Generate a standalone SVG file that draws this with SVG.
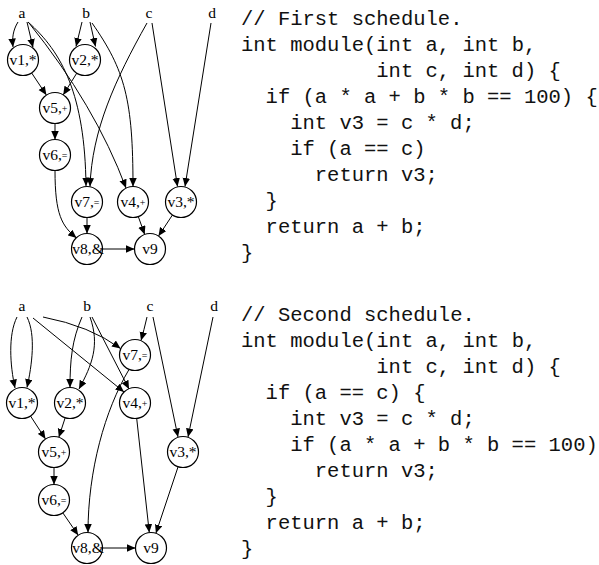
<svg xmlns="http://www.w3.org/2000/svg" width="599" height="565" viewBox="0 0 599 565">
  <style>
    .lbl { font-family: "Liberation Serif", "Times New Roman", serif; font-size: 15.5px; fill: #000; text-anchor: middle; }
    .op { font-size: 10px; }
    .node circle { fill: #fff; stroke: #000; stroke-width: 1.2; }
    .edges path { fill: none; stroke: #000; stroke-width: 1; marker-end: url(#arrow); }
    .code { font-family: "Liberation Mono", "Courier New", monospace; font-size: 20.5px; fill: #111; }
  </style>
  <defs>
    <marker id="arrow" markerUnits="userSpaceOnUse" markerWidth="9" markerHeight="8" refX="8.5" refY="3.75" orient="auto">
      <path d="M0,0 L8.5,3.75 L0,7.5 z" fill="#000"/>
    </marker>
  </defs>

  <!-- ===== First schedule: dataflow graph ===== -->
  <g id="inputs-1">
    <text class="lbl" x="22" y="18">a</text>
    <text class="lbl" x="86" y="18">b</text>
    <text class="lbl" x="149" y="18">c</text>
    <text class="lbl" x="212" y="18">d</text>
  </g>

  <g class="edges" id="edges-1">
    <path d="M18,22 C13,30 12,38 13,47"/>
    <path d="M27,22 L33,47.5"/>
    <path d="M82,22 L76,46.5"/>
    <path d="M90,22 L95.5,46.5"/>
    <path d="M28,22 C62,52 85,95 86,186"/>
    <path d="M29,23 Q95,105 126,188"/>
    <path d="M92,23 C125,70 133,100 133,186.5"/>
    <path d="M147,23 C115,80 92,130 90,186.5"/>
    <path d="M152,23 L177.5,186.5"/>
    <path d="M211,23 L185,186.5"/>
    <path d="M31.6,72.9 L46.4,95.1"/>
    <path d="M76.8,73.1 L63.2,94.9"/>
    <path d="M55,123.5 L55,139.5"/>
    <path d="M55,170.5 C55,215 62,226 76.5,238"/>
    <path d="M87,217.5 L87,233.5"/>
    <path d="M138.3,216.6 L144.7,234.4"/>
    <path d="M172.5,214.9 L158.5,236.1"/>
    <path d="M102.5,249 L134.5,249"/>
  </g>

  <g id="v1-1" class="node"><circle cx="23" cy="60" r="15.5"/><text class="lbl" x="23" y="65">v1,*</text></g>
  <g id="v2-1" class="node"><circle cx="85" cy="60" r="15.5"/><text class="lbl" x="85" y="65">v2,*</text></g>
  <g id="v5-1" class="node"><circle cx="55" cy="108" r="15.5"/><text class="lbl" x="55" y="113">v5,<tspan class="op" dy="-1">+</tspan></text></g>
  <g id="v6-1" class="node"><circle cx="55" cy="155" r="15.5"/><text class="lbl" x="55" y="160">v6,<tspan class="op" dy="-1">=</tspan></text></g>
  <g id="v7-1" class="node"><circle cx="87" cy="202" r="15.5"/><text class="lbl" x="87" y="207">v7,<tspan class="op" dy="-1">=</tspan></text></g>
  <g id="v4-1" class="node"><circle cx="133" cy="202" r="15.5"/><text class="lbl" x="133" y="207">v4,<tspan class="op" dy="-1">+</tspan></text></g>
  <g id="v3-1" class="node"><circle cx="181" cy="202" r="15.5"/><text class="lbl" x="181" y="207">v3,*</text></g>
  <g id="v8-1" class="node"><circle cx="87" cy="249" r="15.5"/><text class="lbl" x="88" y="254">v8,&amp;</text></g>
  <g id="v9-1" class="node"><circle cx="150" cy="249" r="15.5"/><text class="lbl" x="150" y="254">v9</text></g>

  <!-- ===== First schedule: code ===== -->
  <g id="code-1" class="code">
    <text x="241" y="25">// First schedule.</text>
    <text x="241" y="51">int module(int a, int b,</text>
    <text x="376.3" y="77">int c, int d) {</text>
    <text x="265.6" y="103">if (a * a + b * b == 100) {</text>
    <text x="290.2" y="129">int v3 = c * d;</text>
    <text x="290.2" y="155">if (a == c)</text>
    <text x="314.8" y="181">return v3;</text>
    <text x="265.6" y="207">}</text>
    <text x="265.6" y="233">return a + b;</text>
    <text x="241" y="259">}</text>
  </g>

  <!-- ===== Second schedule: dataflow graph ===== -->
  <g id="inputs-2">
    <text class="lbl" x="22" y="311">a</text>
    <text class="lbl" x="87" y="311">b</text>
    <text class="lbl" x="150" y="311">c</text>
    <text class="lbl" x="214" y="311">d</text>
  </g>

  <g class="edges" id="edges-2">
    <path d="M17,317 C8,335 10,365 15,388"/>
    <path d="M27,317 C36,335 32,365 27,387.5"/>
    <path d="M43,317 Q90,326 120.5,348.5"/>
    <path d="M33,318 L124,392"/>
    <path d="M82,317 C72,340 70,360 70,387.5"/>
    <path d="M90,317 C100,345 92,365 79,389"/>
    <path d="M92,317 L129,389"/>
    <path d="M147,317 Q144,330 141,340.5"/>
    <path d="M153,317 L178,437"/>
    <path d="M213,317 L188,437"/>
    <path d="M129,369.5 C105,410 88,470 88,532.5"/>
    <path d="M30.5,416 L45.5,439"/>
    <path d="M65.2,417.7 L58.8,437.3"/>
    <path d="M54,467.5 L54,484.5"/>
    <path d="M62.8,512.8 L78.2,535.2"/>
    <path d="M136.7,418.4 L149.3,532.6"/>
    <path d="M178.1,466.7 L155.9,533.3"/>
    <path d="M102.5,548 L135.5,548"/>
  </g>

  <g id="v7-2" class="node"><circle cx="135" cy="355" r="15.5"/><text class="lbl" x="135" y="360">v7,<tspan class="op" dy="-1">=</tspan></text></g>
  <g id="v1-2" class="node"><circle cx="22" cy="403" r="15.5"/><text class="lbl" x="22" y="408">v1,*</text></g>
  <g id="v2-2" class="node"><circle cx="70" cy="403" r="15.5"/><text class="lbl" x="70" y="408">v2,*</text></g>
  <g id="v4-2" class="node"><circle cx="135" cy="403" r="15.5"/><text class="lbl" x="135" y="408">v4,<tspan class="op" dy="-1">+</tspan></text></g>
  <g id="v5-2" class="node"><circle cx="54" cy="452" r="15.5"/><text class="lbl" x="54" y="457">v5,<tspan class="op" dy="-1">+</tspan></text></g>
  <g id="v3-2" class="node"><circle cx="183" cy="452" r="15.5"/><text class="lbl" x="183" y="457">v3,*</text></g>
  <g id="v6-2" class="node"><circle cx="54" cy="500" r="15.5"/><text class="lbl" x="54" y="505">v6,<tspan class="op" dy="-1">=</tspan></text></g>
  <g id="v8-2" class="node"><circle cx="87" cy="548" r="15.5"/><text class="lbl" x="88" y="553">v8,&amp;</text></g>
  <g id="v9-2" class="node"><circle cx="151" cy="548" r="15.5"/><text class="lbl" x="151" y="553">v9</text></g>

  <!-- ===== Second schedule: code ===== -->
  <g id="code-2" class="code">
    <text x="241" y="321">// Second schedule.</text>
    <text x="241" y="347">int module(int a, int b,</text>
    <text x="376.3" y="373">int c, int d) {</text>
    <text x="265.6" y="399">if (a == c) {</text>
    <text x="290.2" y="425">int v3 = c * d;</text>
    <text x="290.2" y="451">if (a * a + b * b == 100)</text>
    <text x="314.8" y="477">return v3;</text>
    <text x="265.6" y="503">}</text>
    <text x="265.6" y="529">return a + b;</text>
    <text x="241" y="555">}</text>
  </g>
</svg>
